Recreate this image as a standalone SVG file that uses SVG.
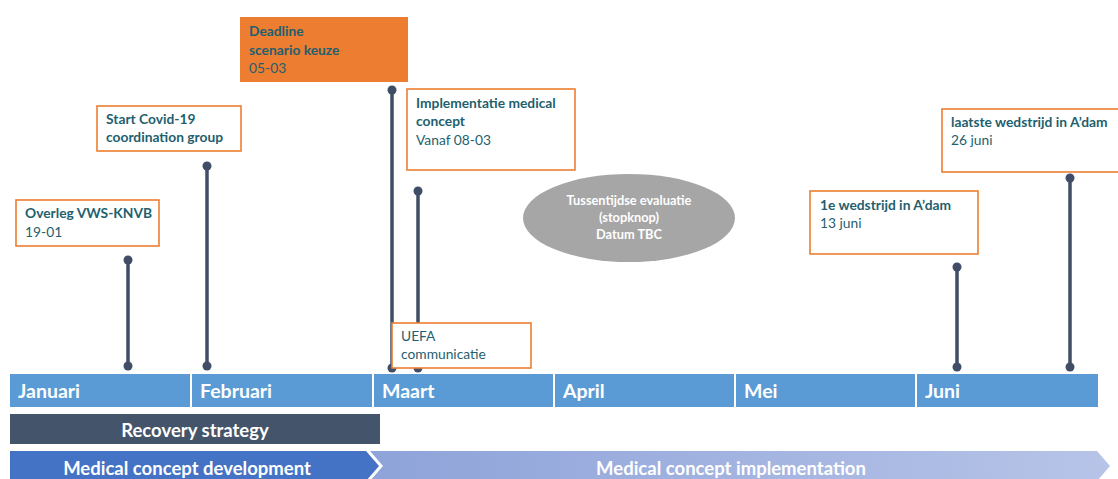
<svg xmlns="http://www.w3.org/2000/svg" width="1118" height="479" viewBox="0 0 1118 479">
<defs>
<linearGradient id="impl" x1="0" y1="0" x2="1" y2="0">
<stop offset="0" stop-color="#8EA3D9"/>
<stop offset="1" stop-color="#B7C4E8"/>
</linearGradient>
</defs>
<style>
.box{fill:#fff;stroke:#ED7D31;stroke-width:1.6}
.t{font-family:Lato,"Open Sans",sans-serif;font-size:13.8px;fill:#1F5F6E}
.b{font-weight:bold}
.stem{stroke:#3F4E66;stroke-width:3.5}
.dot{fill:#3F4E66}
.month{fill:#5B9BD5}
.ml{font-family:Lato,"Open Sans",sans-serif;font-size:19.5px;font-weight:bold;fill:#fff}
.bl{font-family:Lato,"Open Sans",sans-serif;font-size:18.5px;font-weight:bold;fill:#fff;text-anchor:middle}
.el{font-family:Lato,"Open Sans",sans-serif;font-size:12.8px;font-weight:bold;fill:#fff;text-anchor:middle}
</style>
<rect width="1118" height="479" fill="#fff"/>

<g id="months">
<rect class="month" x="10" y="374" width="180" height="33"/>
<rect class="month" x="192" y="374" width="180" height="33"/>
<rect class="month" x="374" y="374" width="179" height="33"/>
<rect class="month" x="555" y="374" width="179" height="33"/>
<rect class="month" x="736" y="374" width="179" height="33"/>
<rect class="month" x="917" y="374" width="181" height="33"/>
<text class="ml" x="18" y="398">Januari</text>
<text class="ml" x="200" y="398">Februari</text>
<text class="ml" x="382" y="398">Maart</text>
<text class="ml" x="563" y="398">April</text>
<text class="ml" x="744" y="398">Mei</text>
<text class="ml" x="925" y="398">Juni</text>
</g>

<g id="recovery">
<rect x="10" y="414" width="370" height="30" fill="#44546A"/>
<text class="bl" x="195" y="437">Recovery strategy</text>
</g>

<g id="implementation">
<polygon points="370,451 1097,451 1110,466 1097,481 370,481 383,466" fill="url(#impl)"/>
<text class="bl" x="731" y="475">Medical concept implementation</text>
</g>
<g id="development">
<polygon points="10,451 366,451 379,466 366,481 10,481" fill="#4472C4"/>
<text class="bl" x="187" y="475">Medical concept development</text>
</g>

<g id="connectors">
<line class="stem" x1="128" y1="260" x2="128" y2="366"/>
<circle class="dot" cx="128" cy="260" r="4.5"/><circle class="dot" cx="128" cy="366" r="4.5"/>
<line class="stem" x1="207" y1="166" x2="207" y2="366"/>
<circle class="dot" cx="207" cy="166" r="4.5"/><circle class="dot" cx="207" cy="366" r="4.5"/>
<line class="stem" x1="392" y1="90" x2="392" y2="368"/>
<circle class="dot" cx="392" cy="90" r="4.5"/><circle class="dot" cx="392" cy="368" r="4.5"/>
<line class="stem" x1="418" y1="191" x2="418" y2="368"/>
<circle class="dot" cx="418" cy="191" r="4.5"/><circle class="dot" cx="418" cy="368" r="4.5"/>
<line class="stem" x1="957" y1="267" x2="957" y2="367"/>
<circle class="dot" cx="957" cy="267" r="4.5"/><circle class="dot" cx="957" cy="367" r="4.5"/>
<line class="stem" x1="1070" y1="178" x2="1070" y2="367"/>
<circle class="dot" cx="1070" cy="178" r="4.5"/><circle class="dot" cx="1070" cy="367" r="4.5"/>
</g>

<g id="overleg">
<rect class="box" x="16" y="200" width="143" height="46"/>
<text class="t b" x="25" y="218">Overleg VWS-KNVB</text>
<text class="t" x="25" y="237">19-01</text>
</g>

<g id="start-covid">
<rect class="box" x="97" y="106" width="144" height="45"/>
<text class="t b" x="106" y="124">Start Covid-19</text>
<text class="t b" x="106" y="142">coordination group</text>
</g>

<g id="deadline">
<rect x="240" y="17" width="168" height="65" fill="#ED7D31"/>
<text class="t b" x="249" y="36">Deadline</text>
<text class="t b" x="249" y="55">scenario keuze</text>
<text class="t" x="249" y="73">05-03</text>
</g>

<g id="implementatie">
<rect class="box" x="407" y="89" width="168" height="81"/>
<text class="t b" x="416" y="108">Implementatie medical</text>
<text class="t b" x="416" y="126">concept</text>
<text class="t" x="416" y="145">Vanaf 08-03</text>
</g>

<g id="uefa">
<rect class="box" x="392" y="323" width="139" height="45"/>
<text class="t" x="401" y="341">UEFA</text>
<text class="t" x="401" y="359">communicatie</text>
</g>

<g id="evaluatie">
<ellipse cx="629" cy="218" rx="106" ry="44" fill="#A6A6A6"/>
<text class="el" x="629" y="205">Tussentijdse evaluatie</text>
<text class="el" x="629" y="222">(stopknop)</text>
<text class="el" x="629" y="239">Datum TBC</text>
</g>

<g id="eerste-wedstrijd">
<rect class="box" x="810" y="191" width="168" height="63"/>
<text class="t b" x="820" y="210">1e wedstrijd in A’dam</text>
<text class="t" x="820" y="228">13 juni</text>
</g>

<g id="laatste-wedstrijd">
<rect class="box" x="942" y="109" width="180" height="63"/>
<text class="t b" x="951" y="127">laatste wedstrijd in A’dam</text>
<text class="t" x="951" y="145">26 juni</text>
</g>
</svg>
